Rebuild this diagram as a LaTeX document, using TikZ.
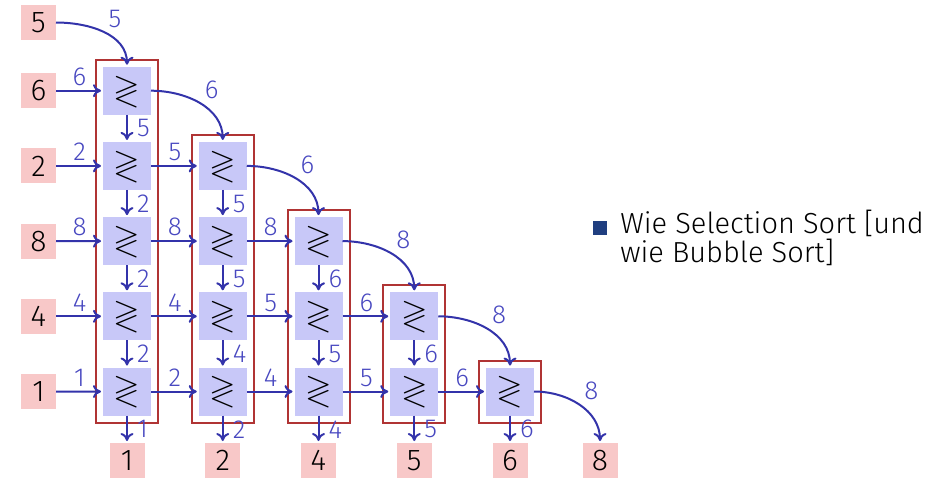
\documentclass[tikz,border=0pt]{standalone}
\usepackage{amssymb}
\usepackage{fontspec}
\setmainfont{Fira Sans Light}
\usetikzlibrary{arrows.meta,fit}

\definecolor{cmpfill}{HTML}{C8C8F8}
\definecolor{wireblue}{HTML}{3333AA}
\definecolor{valblue}{HTML}{4848C0}
\definecolor{keyfill}{HTML}{F8C8C8}
\definecolor{framered}{HTML}{B03434}
\definecolor{bulletblue}{HTML}{203F80}

\tikzset{
  key/.style={fill=keyfill, minimum size=17.5pt, inner sep=0pt, outer sep=0pt,
    font=\fontsize{15}{15}\selectfont},
  cmp/.style={fill=cmpfill, minimum size=24pt, inner sep=0pt, outer sep=0pt,
    font=\fontsize{17}{17}\selectfont},
  wire/.style={draw=wireblue, line width=1pt, shorten >=1pt,
    -{To[length=4pt,width=6.5pt]}},
  val/.style={text=valblue, font=\fontsize{13}{13}\selectfont, inner sep=2pt},
  colbox/.style={draw=framered, line width=1pt, inner sep=3.5pt},
}

\begin{document}
\begin{tikzpicture}[x=0.5pt, y=-0.5pt]
  \useasboundingbox (0,0) rectangle (949,478);

  % keys going in
  \node[key] (in1) at (38.5,22.5) {5};
  \node[key] (in2) at (38.5,90.7) {6};
  \node[key] (in3) at (38.5,165.9) {2};
  \node[key] (in4) at (38.5,241.1) {8};
  \node[key] (in5) at (38.5,316.3) {4};
  \node[key] (in6) at (38.5,391.5) {1};

  % comparators
  \foreach \c in {1,...,5} {
    \foreach \r in {2,...,6} {
      \ifnum\r>\c
        \node[cmp] (cmp-\c-\r) at ({127+95.75*(\c-1)},{15.5+75.2*(\r-1)}) {$\gtrless$};
      \fi
    }
  }

  \foreach \c in {1,...,5} {
    \pgfmathtruncatemacro\t{\c+1}
    \node[colbox, fit=(cmp-\c-\t)(cmp-\c-6)] {};
  }

  % keys going out
  \node[key] (out1) at (127,460.5) {1};
  \node[key] (out2) at (222.75,460.5) {2};
  \node[key] (out3) at (318.5,460.5) {4};
  \node[key] (out4) at (414.25,460.5) {5};
  \node[key] (out5) at (510,460.5) {6};
  \node[key] (out6) at (600,460.5) {8};

  \foreach \r/\v in {2/6,3/2,4/8,5/4,6/1}
    \draw[wire] (in\r) -- node[val, above] {\v} (cmp-1-\r);

  \foreach \a/\b/\v in {in1/cmp-1-2/5, cmp-1-2/cmp-2-3/6, cmp-2-3/cmp-3-4/6,
      cmp-3-4/cmp-4-5/8, cmp-4-5/cmp-5-6/8, cmp-5-6/out6/8}
    \draw[wire] (\a.east) to[out=0, in=90] node[val, above right] {\v} (\b.north);

  \foreach \a/\b/\v in {cmp-1-3/cmp-2-3/5, cmp-1-4/cmp-2-4/8, cmp-1-5/cmp-2-5/4,
      cmp-1-6/cmp-2-6/2, cmp-2-4/cmp-3-4/8, cmp-2-5/cmp-3-5/5, cmp-2-6/cmp-3-6/4,
      cmp-3-5/cmp-4-5/6, cmp-3-6/cmp-4-6/5, cmp-4-6/cmp-5-6/6}
    \draw[wire] (\a) -- node[val, above] {\v} (\b);

  \foreach \a/\b/\v in {cmp-1-2/cmp-1-3/5, cmp-1-3/cmp-1-4/2, cmp-1-4/cmp-1-5/2,
      cmp-1-5/cmp-1-6/2, cmp-1-6/out1/1, cmp-2-3/cmp-2-4/5, cmp-2-4/cmp-2-5/5,
      cmp-2-5/cmp-2-6/4, cmp-2-6/out2/2, cmp-3-4/cmp-3-5/6, cmp-3-5/cmp-3-6/5,
      cmp-3-6/out3/4, cmp-4-5/cmp-4-6/6, cmp-4-6/out4/5, cmp-5-6/out5/6}
    \draw[wire] (\a) -- node[val, right, inner sep=0pt, xshift=4.5pt] {\v} (\b);

  % remark
  \node[fill=bulletblue, minimum size=7pt, inner sep=0pt] (dot) at (600,227.5) {};
  \node[anchor=base west, align=left, inner sep=0pt,
    font=\fontsize{14.5}{14.5}\selectfont] (remark) at (620,262)
    {Wie Selection Sort [und\\wie Bubble Sort]};
\end{tikzpicture}
\end{document}
